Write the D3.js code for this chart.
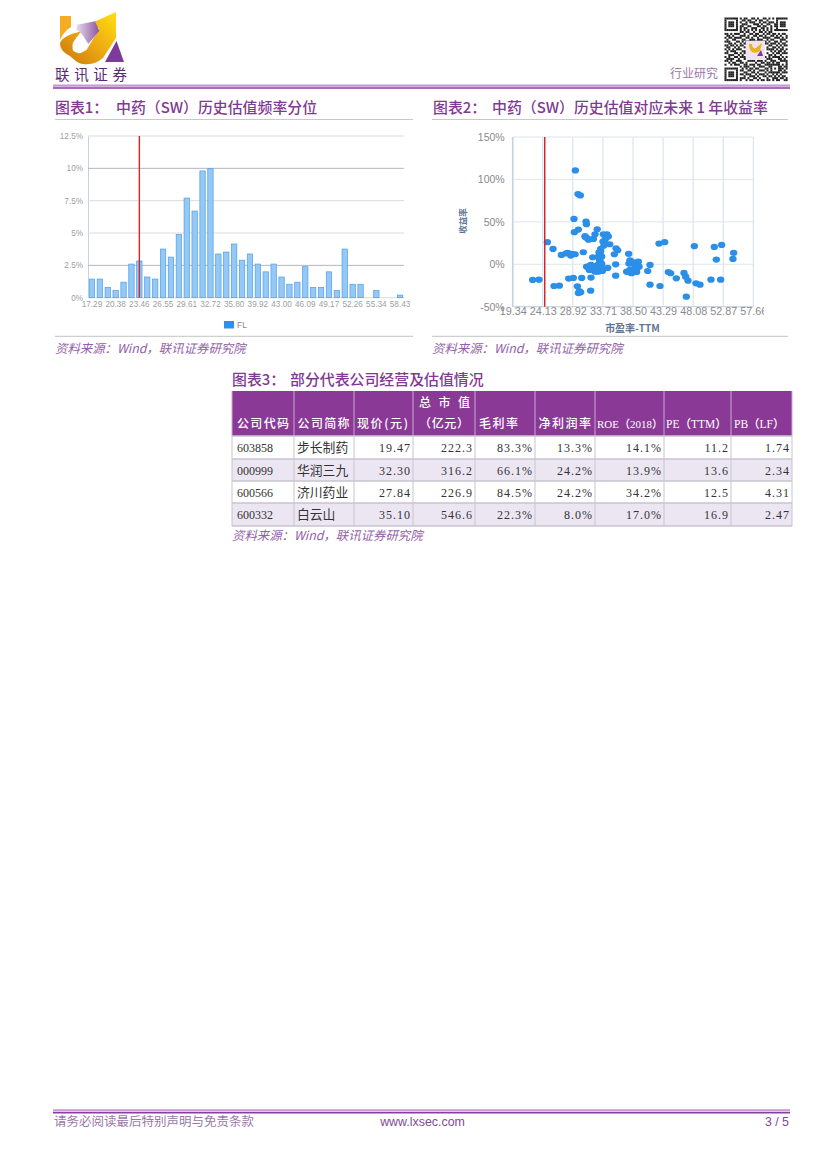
<!DOCTYPE html>
<html><head><meta charset="utf-8">
<script src="https://cdn.jsdelivr.net/npm/d3@7/dist/d3.min.js"></script>
<style>
html,body{margin:0;padding:0;background:#fff}
svg{display:block}
text{font-family:"Noto Sans CJK SC","Liberation Sans",sans-serif}
</style></head><body>
<svg id="page" width="827" height="1170" viewBox="0 0 827 1170"></svg>
<script>
// ---------- data ----------
const binLabels = ["17.29","18.32","19.35","20.38","21.41","22.43","23.46","24.49","25.52","26.55","27.58","28.61","29.61","30.66","31.69","32.72","33.75","34.77","35.80","36.83","38.89","39.92","40.95","41.98","43.00","44.03","45.06","46.09","47.12","48.14","49.17","50.20","51.23","52.26","53.29","54.31","55.34","56.37","57.40","58.43"];
const binShare = [1.44,1.44,0.8,0.57,1.2,2.6,2.84,1.6,1.44,3.76,3.14,4.9,7.7,6.7,9.8,10,3.38,3.53,4.15,2.9,3.38,2.6,2.0,2.6,1.6,1.04,1.2,2.4,0.8,0.8,2.0,0.57,3.76,1.04,1.04,0,0.57,0,0,0.2];
const currentBin = "23.46";
const shareTicks = [0,2.5,5,7.5,10,12.5];
const peValues = [29.32,29.74,30.11,29.1,31.02,31.08,29.8,29.16,32.8,24.86,25.76,27.09,28.04,28.58,28.47,29.27,30.59,30.86,31.23,32.19,32.45,33.78,34.36,34.2,33.72,33.88,34.79,33.35,33.09,35.8,36.06,35.53,32.08,33.25,33.14,37.81,35.74,38.02,37.86,39.19,39.46,41.21,33.51,31.76,31.39,32.19,32.72,33.51,31.92,32.45,33.62,34.47,37.81,38.24,39.09,40.84,31.81,30.33,28.26,29,35.74,22.52,23.53,25.92,26.77,29.64,29.96,29.8,30.17,31.76,41.21,42.8,42.64,43.54,48.27,51.45,52.62,54.53,54.42,51.77,44.13,44.5,45.4,46.62,46.89,47.26,46.99,48.53,49.17,50.92,52.46,32.0,32.6,33.0,31.6,33.3,38.3,39.2,38.6,37.9,30.9,31.4,31.12,31.55,32.19,32.98,33.25,32.72,33.78,33.25,33.35,33.51,32.98,34.04,34.57,32.98,31.65,37.49,38.02,38.55,39.35,38.82,39.09,38.02,38.29,28.9,27.8];
const nextYearReturn = [110.6,82.7,81.1,53.5,50.4,47.2,40.9,37.8,41.3,26,18.1,11,13.4,10.2,12.6,11.8,14.2,33.1,30.7,29.9,35.4,35.4,35.4,31.5,26.8,22,23.6,18.1,14.2,18.9,16.5,11.8,8.3,11,5.5,12.2,0,4.7,0.8,2.4,-2.8,-0.8,0.4,-0.8,-3.9,-2.8,-3.9,-3.9,-6.7,-8.7,-7.9,-4.3,-9.1,-10.6,-9.1,-7.9,-15.7,-16.1,-16.9,-16.1,-13.4,-18.5,-18.1,-25.6,-25.2,-26,-31.5,-33.9,-33.1,-31.1,-24,-25.6,24.4,26,21.3,20.5,22.8,13.4,6.3,5.5,-9.1,-10.6,-16.5,-10.2,-14.6,-19.3,-38.2,-22.4,-24,-18.1,-18.1,-1.5,-5.5,-7,-6,2.5,2,-3,-9.5,-8,32,29,-2.8,-6.7,-5.5,0,-3.9,-7.5,-5.5,2,15,9,9,28.7,32.7,-8.7,-3.9,-8.7,-6.7,-8.7,3.1,-2.8,-4.7,1.2,3.1,12,12.7];
const currentPE = 24.44;
const peTicks = [19.34,24.13,28.92,33.71,38.50,43.29,48.08,52.87,57.66];
const returnTicks = [-50,0,50,100,150];
const tableHead = ["公司代码","公司简称","现价(元)","（亿元）","毛利率","净利润率"];
const tableHeadLatin = ["ROE（2018）","PE（TTM）","PB（LF）"];
const tableCodes = ["603858","000999","600566","600332"];
const tableNames = ["步长制药","华润三九","济川药业","白云山"];
const tablePrice = ["19.47","32.30","27.84","35.10"];
const tableCap = ["222.3","316.2","226.9","546.6"];
const tableGross = ["83.3%","66.1%","84.5%","22.3%"];
const tableNet = ["13.3%","24.2%","24.2%","8.0%"];
const tableRoe = ["14.1%","13.9%","34.2%","17.0%"];
const tablePe = ["11.2","13.6","12.5","16.9"];
const tablePb = ["1.74","2.34","4.31","2.47"];
const qrRows = [
"111111101011001101001101010111111",
"100000100110110010110010000100000",
"101110101001011100101101110101110",
"101110100111000111010011001101110",
"101110101100110001101100101101110",
"100000101011001110011010100100000",
"111111101010101010101010101111111",
"000000001101100100110101100000000",
"110101110010011011001011011010110",
"011010001110100110110100110101001",
"101101111001101001001111001110101",
"010011000110011101110010110001110",
"111000110101110010001101001101001",
"001101001011000111100110111010110",
"110110101100000000000001100101011",
"011001010010000000000010011010100",
"101010111000000000000011110101101",
"010111000110000000000000101011010",
"110001101010000000000010010110111",
"001110010100000000000001101001000",
"101001101110110100110101011110101",
"011110010011001011001011100011010",
"110100111000111101110100111001111",
"001011001101000010011011010110001",
"100101110011011101100111111110101",
"000000001011100100111001100011011",
"111111100101011011000110101011101",
"100000101100110100111010100011010",
"101110100011001101000101111110111",
"101110101101110010111010010101000",
"101110100010011101001101101010110",
"100000101110100110100010011101101",
"111111101001011001011011010110011"];

// ---------- page furniture ----------
const svg = d3.select("#page");
const PURPLE="#7f3a94";
const defs = svg.append("defs");
const g1 = defs.append("linearGradient").attr("id","gold").attr("x1",0).attr("y1",1).attr("x2",1).attr("y2",0);
g1.append("stop").attr("offset",0).attr("stop-color","#c8740e");
g1.append("stop").attr("offset",0.5).attr("stop-color","#eda912");
g1.append("stop").attr("offset",1).attr("stop-color","#ffe010");
const g2 = defs.append("linearGradient").attr("id","lilac").attr("x1",0).attr("y1",0).attr("x2",1).attr("y2",0);
g2.append("stop").attr("offset",0).attr("stop-color","#e8deee");
g2.append("stop").attr("offset",1).attr("stop-color","#8a55a0");

function logo(g){
  g.append("path").attr("fill","#f5ac20").attr("d","M60 16H71V27C66 30 62 35 60 40Z");
  g.append("path").attr("fill","url(#gold)").attr("d","M75 33C68 35 62 38 60 43C60 49 64 53 70 56C75 61 80 64 83 64C92 65 98 62 103 58L116 38L116 12L91.7 23L99.3 28.7L86.7 49.7C83 52 80 54 78 53C74 52 72 50 72.7 48C72 44 73 42 75 39.7C77 37 79 34 81.7 31.3Z");
  g.append("path").attr("fill","url(#lilac)").attr("d","M77.3 24.7L95 21.3L99.3 30.7L88.3 44L83.3 36.3C81 33 79 31 76 29.7Z");
  g.append("path").attr("fill","#7d3a98").attr("d","M116.5 41L124 62H105Z");
  g.append("text").attr("x",55).attr("y",80).attr("font-size",14.5).attr("font-weight",400).attr("textLength",72).attr("lengthAdjust","spacing").attr("fill","#5b2670").text("联讯证券");
}
logo(svg.append("g"));

function rule(y,x1,x2,c,w){svg.append("line").attr("x1",x1).attr("x2",x2).attr("y1",y).attr("y2",y).attr("stroke",c).attr("stroke-width",w);}
function doubleRule(y){ rule(y,53,790,"#c49ad0",2.2); rule(y+2.4,53,790,"#8b3d9f",1.6); }
doubleRule(85.6);
doubleRule(1110.3);

svg.append("text").attr("x",670).attr("y",78).attr("font-size",12).attr("fill","#9a78a8").text("行业研究");
const qr = svg.append("g");
const qrX = d3.scaleBand().domain(d3.range(33)).range([724.5,787.5]);
const qrY = d3.scaleBand().domain(d3.range(33)).range([17.5,81]);
qrRows.forEach((row,r)=>{
  qr.selectAll(null).data(row.split("").map((c,i)=>({c,i})).filter(d=>d.c==="1")).join("rect")
    .attr("x",d=>qrX(d.i)).attr("y",qrY(r)).attr("width",qrX.bandwidth()+.1).attr("height",qrY.bandwidth()+.1).attr("fill","#222");
});
qr.append("rect").attr("x",746).attr("y",41).attr("width",19).attr("height",19).attr("fill","#eee3ee");
qr.append("path").attr("fill","#ecb31c").attr("d","M749 44C749 52 754 55 760 51L762 43L757 47C755 50 752 48 752 44Z");
qr.append("path").attr("fill","#7d3a98").attr("d","M761 50L763 56H757Z");

function title(x,y,t){svg.append("text").attr("x",x).attr("y",y).attr("font-size",14.9).attr("font-weight",500).attr("fill",PURPLE).text(t);}
function source(x,y){svg.append("text").attr("x",x).attr("y",y).attr("font-size",12.4).attr("font-style","italic").attr("fill","#9460a8").text("资料来源：Wind，联讯证券研究院");}
title(55,113,"图表1：");title(116,113,"中药（SW）历史估值频率分位");
title(433,113,"图表2：");title(492,113,"中药（SW）历史估值对应未来 1 年收益率");
rule(119.5,55,413,"#c9c9c9",1);rule(119.5,432,788,"#c9c9c9",1);
rule(336.3,55,413,"#c4c4c4",1);rule(336.3,432,788,"#c4c4c4",1);
source(55,353);source(432,353);

// ---------- chart 1: histogram ----------
const c1 = svg.append("g");
const x1 = d3.scaleBand().domain(binLabels).range([88,404]);
const y1 = d3.scaleLinear().domain([0,12.5]).range([297.7,136]);
const gy1 = c1.append("g").attr("transform","translate(88,0)")
  .call(d3.axisLeft(y1).tickValues(shareTicks).tickSize(0).tickPadding(5).tickFormat(d=>d+"%"));
gy1.select(".domain").attr("stroke","#c9d2db");
gy1.selectAll("text").attr("fill","#a0a0a0").attr("font-size",8.2).style("font-family","'Liberation Sans'");
c1.selectAll("line.grid").data(shareTicks).join("line").attr("class","grid")
  .attr("x1",88).attr("x2",404).attr("y1",d=>y1(d)).attr("y2",d=>y1(d))
  .attr("stroke",d=>(d===10||d===2.5)?"#b4b6be":"#d9dbe2").attr("stroke-width",1);
c1.selectAll("rect.bar").data(binShare).join("rect").attr("class","bar")
  .attr("x",(d,i)=>x1(binLabels[i])+x1.bandwidth()*0.16).attr("width",x1.bandwidth()*0.68)
  .attr("y",d=>y1(d)).attr("height",d=>y1(0)-y1(d))
  .attr("fill","#93c8f7").attr("stroke","#4f9fe6").attr("stroke-width",.7);
const gx1 = c1.append("g").attr("transform","translate(0,297.7)")
  .call(d3.axisBottom(x1).tickValues(binLabels.filter((d,i)=>i%3===0)).tickSize(0).tickPadding(3));
gx1.select(".domain").remove();
gx1.selectAll("text").attr("fill","#a0a0a0").attr("font-size",8.2).style("font-family","'Liberation Sans'");
const mark1 = x1(currentBin)+x1.bandwidth()/2;
c1.append("line").attr("x1",mark1).attr("x2",mark1).attr("y1",y1(12.5)).attr("y2",y1(0)).attr("stroke","#d8232a").attr("stroke-width",1.4);
c1.append("rect").attr("x",224).attr("y",321).attr("width",10).attr("height",7.5).attr("fill","#2e8fee");
c1.append("text").attr("x",237).attr("y",328.3).attr("font-size",8.5).attr("fill","#888").style("font-family","'Liberation Sans'").text("FL");

// ---------- chart 2: scatter ----------
const c2 = svg.append("g");
const x2 = d3.scaleLinear().domain([19.34,57.66]).range([512.7,753.3]);
const y2 = d3.scaleLinear().domain([-50,150]).range([306.7,137]);
defs.append("clipPath").attr("id","c2clip").append("rect").attr("x",490).attr("y",300).attr("width",274).attr("height",25);
c2.selectAll("line.gv").data(peTicks).join("line").attr("class","gv")
  .attr("x1",d=>x2(d)).attr("x2",d=>x2(d)).attr("y1",137).attr("y2",306.7).attr("stroke","#d4deea");
c2.selectAll("line.gh").data(returnTicks).join("line").attr("class","gh")
  .attr("x1",512.7).attr("x2",753.3).attr("y1",d=>y2(d)).attr("y2",d=>y2(d)).attr("stroke","#dde5ee");
c2.append("line").attr("x1",512.7).attr("x2",512.7).attr("y1",137).attr("y2",306.7).attr("stroke","#c4d2e2").attr("stroke-width",1.6);
c2.append("line").attr("x1",512.7).attr("x2",753.3).attr("y1",306.7).attr("y2",306.7).attr("stroke","#c4d2e2").attr("stroke-width",1);
const gy2 = c2.append("g").attr("transform","translate(512.7,0)")
  .call(d3.axisLeft(y2).tickValues(returnTicks).tickSize(0).tickPadding(8).tickFormat(d=>d+"%"));
gy2.select(".domain").remove();
gy2.selectAll("text").attr("fill","#8a8a8a").attr("font-size",10.5).style("font-family","'Liberation Sans'");
const gx2 = c2.append("g").attr("clip-path","url(#c2clip)").append("g").attr("transform","translate(0,306.7)")
  .call(d3.axisBottom(x2).tickValues(peTicks).tickSize(0).tickPadding(1).tickFormat(d3.format(".2f")));
gx2.select(".domain").remove();
gx2.selectAll("text").attr("fill","#8a8a8a").attr("font-size",10.8).style("font-family","'Liberation Sans'");
c2.selectAll("ellipse").data(peValues).join("ellipse")
  .attr("cx",d=>x2(d)).attr("cy",(d,i)=>y2(nextYearReturn[i])).attr("rx",3.7).attr("ry",3.1)
  .attr("fill","#2b8fe8");
c2.append("line").attr("x1",x2(currentPE)).attr("x2",x2(currentPE)).attr("y1",137).attr("y2",306.7).attr("stroke","#d8232a").attr("stroke-width",1.5);
c2.append("text").attr("x",632.5).attr("y",331.5).attr("text-anchor","middle").attr("font-size",10).attr("font-weight",700).attr("fill","#5d7696").text("市盈率-TTM");
c2.append("text").attr("transform","translate(466,221) rotate(-90)").attr("text-anchor","middle").attr("font-size",8.5).attr("font-weight",700).attr("fill","#5d7696").text("收益率");

// ---------- table ----------
title(232,385,"图表3：");title(290,385,"部分代表公司经营及估值情况");
const colEdges=[232,294,354,413,475,535,595,664,731,792];
const rowEdges=[391,436,459,481,503,526];
const t = svg.append("g");
t.append("rect").attr("x",232).attr("y",391).attr("width",560).attr("height",45).attr("fill","#8a3a96");
t.selectAll("rect.alt").data(tableCodes).join("rect").attr("class","alt")
  .attr("x",232).attr("width",560).attr("y",(d,i)=>rowEdges[i+1]).attr("height",(d,i)=>rowEdges[i+2]-rowEdges[i+1])
  .attr("fill",(d,i)=>i%2?"#ece6f3":"#fff");
colEdges.forEach(x=>{
  t.append("line").attr("x1",x).attr("x2",x).attr("y1",391).attr("y2",436).attr("stroke","#c9a9d2").attr("stroke-width",1);
  t.append("line").attr("x1",x).attr("x2",x).attr("y1",436).attr("y2",526).attr("stroke","#c8c5cf").attr("stroke-width",1);
});
rowEdges.slice(1).forEach(y=>{
  t.append("line").attr("x1",232).attr("x2",792).attr("y1",y).attr("y2",y).attr("stroke","#c8c5cf").attr("stroke-width",1.4);
});
const headStyle = s=>s.attr("font-size",12).attr("font-weight",500).attr("fill","#fff").attr("lengthAdjust","spacing");
const headX=[237,297.6,357,419,479,538.5];
const headW=[52,52,51,50,39,52.5];
tableHead.forEach((h,i)=>{
  t.append("text").attr("x",headX[i]).attr("y",428).attr("textLength",headW[i]).text(h).call(headStyle);
});
const latinX=[597,666,734], latinSize=[11,11.5,11.5];
tableHeadLatin.forEach((h,i)=>{
  t.append("text").attr("x",latinX[i]).attr("y",428).attr("font-size",latinSize[i]).attr("font-weight",500).attr("fill","#fff")
    .style("font-family","'Liberation Serif','Noto Sans CJK SC'").text(h);
});
t.append("text").attr("x",419).attr("y",407).attr("textLength",51).call(headStyle).text("总 市 值");
const serif = s=>s.style("font-family","'Liberation Serif'").attr("font-size",12).attr("fill","#333").attr("letter-spacing",1);
const numCols=[tablePrice,tableCap,tableGross,tableNet,tableRoe,tablePe,tablePb];
tableCodes.forEach((code,r)=>{
  const y=rowEdges[r+1]+16;
  t.append("text").attr("x",237).attr("y",y).call(serif).attr("letter-spacing",0).text(code);
  t.append("text").attr("x",297).attr("y",y).attr("font-size",12.8).attr("fill","#333").text(tableNames[r]);
  numCols.forEach((col,c)=>{
    t.append("text").attr("x",colEdges[c+3]-2).attr("y",y).attr("text-anchor","end").call(serif).text(col[r]);
  });
});
source(232,540);

// ---------- footer ----------
svg.append("text").attr("x",54).attr("y",1126).attr("font-size",12.5).attr("fill","#9a78aa").text("请务必阅读最后特别声明与免责条款");
svg.append("text").attr("x",422.5).attr("y",1126).attr("text-anchor","middle").attr("font-size",12.4).attr("fill","#7f4a96").style("font-family","'Liberation Sans'").text("www.lxsec.com");
svg.append("text").attr("x",789).attr("y",1126).attr("text-anchor","end").attr("font-size",12.4).attr("fill","#7f4a96").style("font-family","'Liberation Sans'").text("3 / 5");
</script>
</body></html>
